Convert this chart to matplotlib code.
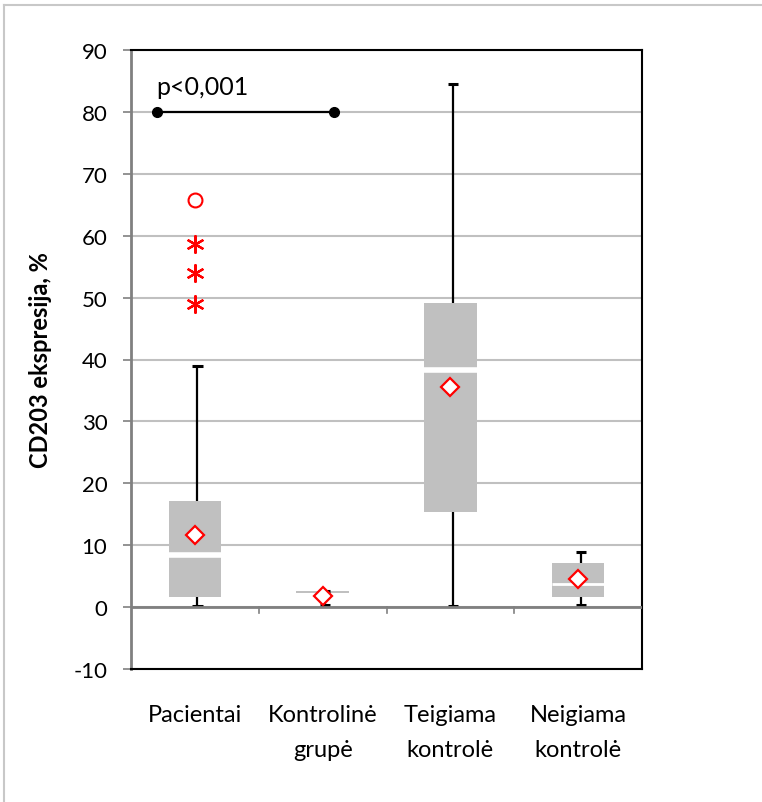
import numpy as np
import matplotlib.pyplot as plt
from matplotlib.lines import Line2D

plt.rcParams['font.family'] = ['Lato', 'DejaVu Sans']
plt.rcParams['axes.unicode_minus'] = False

# box plot data
groups = ['Pacientai', 'Kontrolinė\ngrupė', 'Teigiama\nkontrolė', 'Neigiama\nkontrolė']
whisk_lo = [0.2, 0.3, 0.2, 0.4]
q1 = [1.7, 2.35, 15.3, 1.7]
median = [8.4, 2.5, 38.3, 3.8]
q3 = [17.1, 2.65, 49.1, 7.05]
whisk_hi = [38.9, 2.6, 84.5, 8.9]
means = [11.7, 1.8, 35.5, 4.5]

# outliers of Pacientai
circle_out = [65.7]
star_out = [58.6, 54.0, 49.0]

# significance bar
sig_y = 80
sig_x = [-0.3, 1.09]
sig_text = 'p<0,001'

fig = plt.figure(figsize=(7.62, 8.03), dpi=100)
ax = fig.add_axes([131/762, 1 - 670/803, 511/762, 619/803])

x = np.arange(len(groups))
w = 0.41

ax.set_xlim(-0.5, 3.5)
ax.set_ylim(-10, 90)
ax.set_yticks(np.arange(-10, 91, 10))
ax.yaxis.grid(True, color='#c0c0c0', lw=1.5)
ax.set_axisbelow(True)

# boxes
ax.bar(x, np.array(q3) - np.array(q1), bottom=q1, width=w, color='#c0c0c0', zorder=2)
for i in range(len(groups)):
    if q3[i] - q1[i] > 1:
        gap = 4 if q3[i] - q1[i] > 10 else 2
        ax.hlines(median[i], x[i] - w/2, x[i] + w/2, color='white', lw=gap, zorder=3)

# whiskers
ax.vlines(x + 0.02, whisk_lo, q1, color='black', lw=1.6, zorder=2)
ax.vlines(x + 0.02, q3, whisk_hi, color='black', lw=1.6, zorder=2)
ax.hlines(whisk_lo, x + 0.02 - 0.04, x + 0.02 + 0.04, color='black', lw=2.2, zorder=2)
ax.hlines(whisk_hi, x + 0.02 - 0.04, x + 0.02 + 0.04, color='black', lw=2.2, zorder=2)

# means
ax.plot(x, means, ls='none', marker='D', ms=9, mfc='white', mec='red', mew=1.6, zorder=5)

# outliers
ax.plot([0] * len(circle_out), circle_out, ls='none', marker='o', ms=10, mfc='none', mec='red', mew=1.5, zorder=5)
ax.plot([0] * len(star_out), star_out, ls='none', marker=(6, 2, 0), ms=13, mec='red', mew=1.6, zorder=5)

# significance
ax.plot(sig_x, [sig_y, sig_y], color='black', lw=1.6, marker='o', ms=7, zorder=5)
ax.text(sig_x[0], sig_y + 2.3, sig_text, fontsize=18, ha='left', va='bottom')

# zero axis with category separators
ax.axhline(0, color='#808080', lw=2, zorder=4)
for b in np.arange(0.5, 3.5, 1):
    ax.plot([b, b], [0, -0.9], color='#808080', lw=1.2, zorder=4, clip_on=False)

ax.set_xticks(x)
ax.set_xticklabels(groups, fontsize=17, linespacing=1.85)
ax.tick_params(axis='x', length=0, pad=25)
ax.tick_params(axis='y', labelsize=16, length=6, width=1.2, color='#808080', direction='out', pad=11)

for s in ['top', 'right', 'bottom']:
    ax.spines[s].set_color('black')
    ax.spines[s].set_linewidth(1.5)
ax.spines['left'].set_color('#808080')
ax.spines['left'].set_linewidth(2)

ax.set_ylabel('CD203 ekspresija, %', fontsize=17, fontweight='bold')
ax.yaxis.set_label_coords(-0.155, 0.5)

# outer chart frame (left and top visible)
fig.add_artist(Line2D([4/762, 4/762], [0, 1 - 6/803], color='#c8c8c8', lw=1.5))
fig.add_artist(Line2D([4/762, 1], [1 - 6/803, 1 - 6/803], color='#c8c8c8', lw=1.5))

fig.savefig('out.png', dpi=100)
